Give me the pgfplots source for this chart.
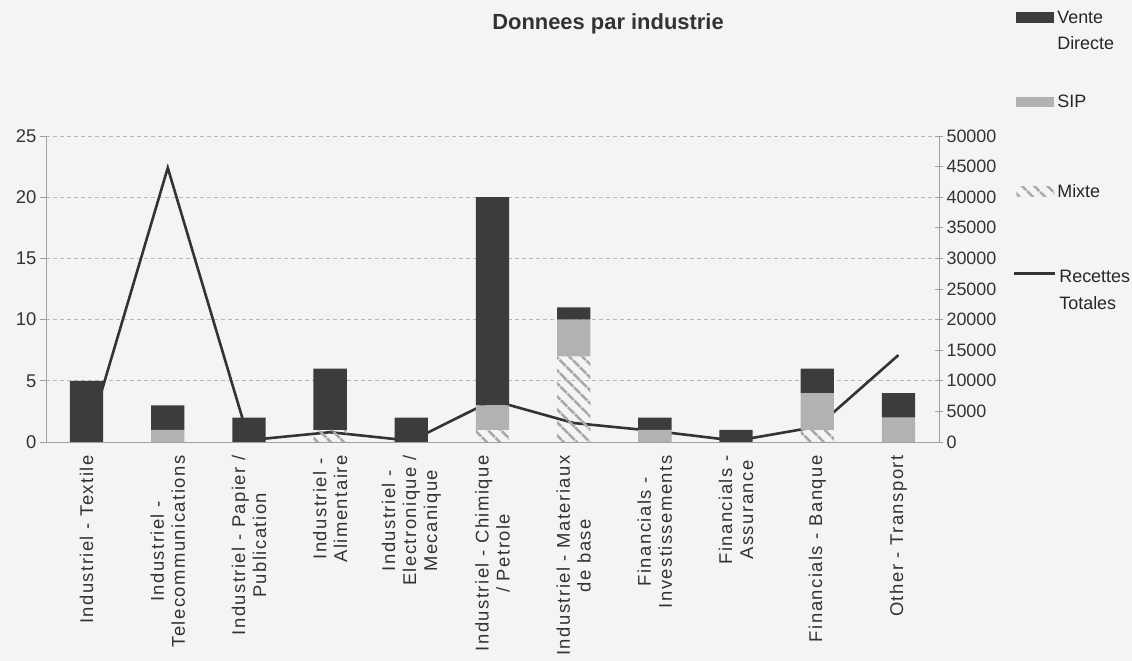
\documentclass[border=0pt]{standalone}
\usepackage{fontspec}
\setmainfont{Liberation Sans}
\usepackage{pgfplots}
\pgfplotsset{compat=1.18}
\usetikzlibrary{patterns.meta}
\definecolor{bgc}{HTML}{F4F4F4}
\definecolor{vente}{HTML}{3C3C3C}
\definecolor{sip}{HTML}{B2B2B2}
\definecolor{mixte}{HTML}{A8A8A8}
\definecolor{linec}{HTML}{333333}
\definecolor{axc}{HTML}{A0A0A0}
\definecolor{gridc}{HTML}{B8B8B8}
\pgfplotsset{
  barleg/.style={legend image code/.code={\path[##1, draw=none] (0bp,-5bp) rectangle (38bp,5bp);}},
  barlegup/.style={legend image code/.code={\path[##1, draw=none] (0bp,8bp) rectangle (38bp,19bp);}},
  lineleg/.style={legend image code/.code={\draw[draw=linec, line width=2.6bp] (0bp,17bp) -- (41bp,17bp);}},
  legtext/.style={legend cell align=left,
    legend style={draw=none, fill=none, anchor=west, column sep=2bp,
    font=\fontsize{18}{27}\selectfont, text=black!85,
    nodes={align=left, inner sep=1bp}}},
}
\begin{document}
\begin{tikzpicture}
\path[use as bounding box, fill=bgc] (0,0) rectangle (1132bp,661bp);
\node[font=\fontsize{22}{24}\selectfont\bfseries, text=black!80] at (608bp,637bp) {Donnees par industrie};
\pgfplotsset{base/.style={
  at={(46bp,219bp)}, anchor=south west,
  scale only axis, width=893bp, height=306bp,
  xmin=-0.5, xmax=10.5,
}}
% Axis L: left axis, x axis, grid
\begin{axis}[base,
  ymin=0, ymax=25, ytick={0,5,...,25},
  axis x line*=bottom, axis y line*=left,
  axis line style={draw=axc, line width=0.8bp},
  ymajorgrids, grid style={draw=gridc, dash pattern=on 4bp off 3bp, line width=0.8bp},
  xtick={0,...,10},
  xticklabels={{Industriel - Textile},{Industriel -\\Telecommunications},{Industriel - Papier /\\Publication},{Industriel -\\Alimentaire},{Industriel -\\Electronique /\\Mecanique},{Industriel - Chimique\\/ Petrole},{Industriel - Materiaux\\de base},{Financials -\\Investissements},{Financials -\\Assurance},{Financials - Banque},{Other - Transport}},
  xticklabel style={rotate=90, anchor=east, align=center, text=black!80,
    font=\fontsize{18.5}{21}\selectfont\addfontfeatures{LetterSpace=8}},
  xticklabel shift=4bp,
  major x tick style={draw=none},
  extra x ticks={-0.5,0.5,...,10.5}, extra x tick labels={},
  extra x tick style={major tick length=6bp, tick align=outside, tick style={draw=axc, line width=0.8bp}, grid=none},
  y tick style={draw=axc, line width=0.8bp}, major tick length=6bp, tick align=outside,
  yticklabel style={font=\fontsize{18.5}{18}\selectfont, text=black!80},
  /pgf/number format/assume math mode=true,
  x axis line style={-}, y axis line style={-},
  legtext, legend style={at={(1.083,0.817)}},
]
\addplot[draw=none, forget plot] coordinates {(0,0)};
\addlegendimage{barleg, draw=none, pattern={Lines[angle=-45, distance=10bp, line width=3bp]}, pattern color=mixte}
\addlegendentry{Mixte}
\end{axis}
% Axis R: right axis with line
\begin{axis}[base,
  ymin=0, ymax=50000, ytick={0,5000,...,50000},
  axis y line*=right, axis x line=none,
  axis line style={draw=axc, line width=0.8bp, -},
  y tick style={draw=axc, line width=0.8bp}, major tick length=8bp, tick align=center,
  yticklabel style={font=\fontsize{18}{18}\selectfont, text=black!80},
  scaled y ticks=false,
  /pgf/number format/assume math mode=true,
  /pgf/number format/1000 sep={},
  legtext, legend style={at={(1.079,0.496)}},
]
\addplot[draw=linec, line width=2.6bp, mark=none, lineleg] coordinates {
(0,0) (1,44800) (2,300) (3,1600) (4,200) (5,6800) (6,3100) (7,1800) (8,200) (9,2500) (10,14200)};
\addlegendentry{Recettes\\Totales}
\end{axis}
% Axis B: bars
\begin{axis}[base,
  ymin=0, ymax=25, hide axis,
  ybar stacked, bar width=0.41,
  reverse legend,
  legtext,
  legend style={at={(1.083,1.42)}, anchor=north west, row sep=42bp},
]
\addplot[draw=none, pattern={Lines[angle=-45, distance=10bp, line width=3bp]}, pattern color=mixte, forget plot]
  coordinates {(0,0) (1,0) (2,0) (3,1) (4,0) (5,1) (6,7) (7,0) (8,0) (9,1) (10,0)};
\addplot[draw=none, fill=sip, barleg]
  coordinates {(0,0) (1,1) (2,0) (3,0) (4,0) (5,2) (6,3) (7,1) (8,0) (9,3) (10,2)};
\addlegendentry{SIP}
\addplot[draw=none, fill=vente, barlegup]
  coordinates {(0,5) (1,2) (2,2) (3,5) (4,2) (5,17) (6,1) (7,1) (8,1) (9,2) (10,2)};
\addlegendentry{Vente\\Directe}
\end{axis}
\end{tikzpicture}
\end{document}
